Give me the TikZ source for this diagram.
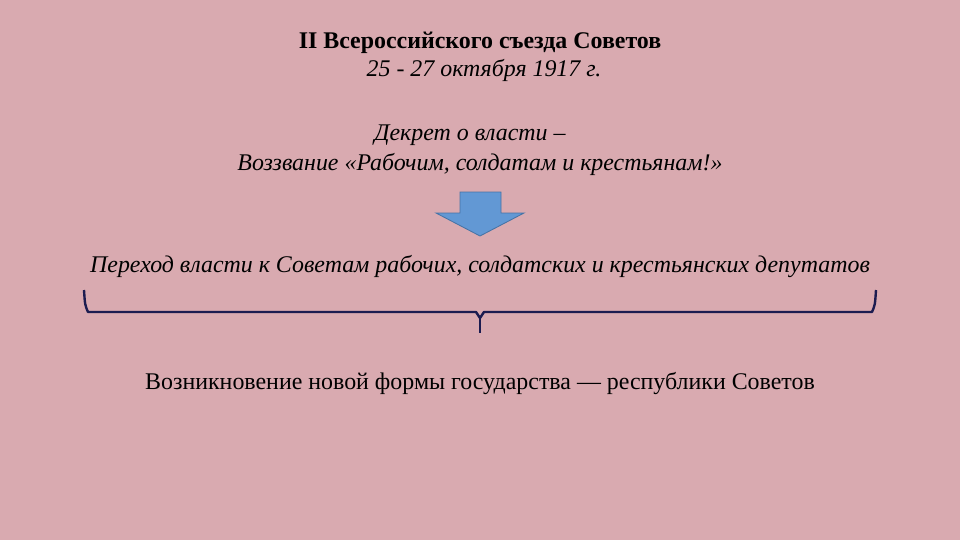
\documentclass[tikz,border=0pt]{standalone}
\usepackage{fontspec}
\setmainfont{Liberation Serif}
\usetikzlibrary{positioning}
\definecolor{slidebg}{RGB}{217,170,176}
\definecolor{arrowblue}{RGB}{98,152,212}
\definecolor{arrowedge}{RGB}{70,115,165}
\definecolor{bracenavy}{RGB}{28,28,80}

\begin{document}
\begin{tikzpicture}[
    x=0.025cm, y=-0.025cm,
    line/.style={anchor=base, font=\fontsize{17}{20}\selectfont},
    itline/.style={line, font=\fontsize{17}{20}\selectfont\itshape},
    brace/.style={draw=bracenavy, line width=1.7pt, line join=round}
]
    % Background
    \fill[slidebg] (0,0) rectangle (960,540);
    \useasboundingbox (0,0) rectangle (960,540);

    % Congress heading
    \node[line, font=\fontsize{17}{20}\selectfont\bfseries] (title) at (480,48) {II Всероссийского съезда Советов};
    \node[itline] (dates) at (484,76) {25 - 27 октября 1917 г.};

    % Decree
    \node[itline] (decree) at (470,140) {Декрет о власти –};
    \node[itline] (appeal) at (480,170) {Воззвание «Рабочим, солдатам и крестьянам!»};

    % Block arrow
    \draw[fill=arrowblue, draw=arrowedge, line width=0.6pt]
        (460,192) -- (501,192) -- (501,213) -- (524,213) -- (480,236)
        -- (436,213) -- (460,213) -- cycle;

    \node[itline] (transfer) at (480,272) {Переход власти к Советам рабочих, солдатских и крестьянских депутатов};

    % Brace
    \coordinate (bl) at (84,290);
    \coordinate (br) at (876,290);
    \coordinate (bm) at (480,333);
    \draw[brace] (bl) .. controls (85,305) .. (88,312) -- (476,312) -- (480,318) -- (484,312)
        -- (872,312) .. controls (875,305) .. (br);
    \draw[brace] (480,318) -- (bm);

    \node[line] (result) at (480,389) {Возникновение новой формы государства — республики Советов};
\end{tikzpicture}
\end{document}
